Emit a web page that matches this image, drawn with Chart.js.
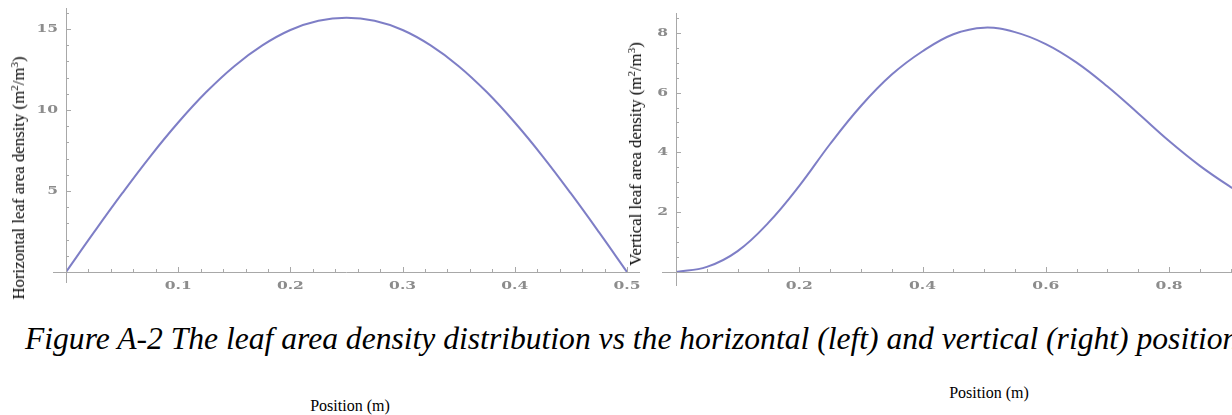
<!DOCTYPE html>
<html>
<head>
<meta charset="utf-8">
<script src="https://cdn.jsdelivr.net/npm/chart.js@4"></script>
<style>
  body { margin: 0; background: #fff; width: 1232px; height: 415px; overflow: hidden; position: relative; font-family: "Liberation Serif", "Times New Roman", serif; }
  canvas { filter: blur(0.45px); }
  #wrapH { position: absolute; left: 0; top: 0; width: 640px; height: 300px; }
  #wrapV { position: absolute; left: 620px; top: 0; width: 612px; height: 300px; }
  .ytitle { position: absolute; white-space: nowrap; font-size: 16.8px; color: #000; transform: translate(-50%, -50%) rotate(-90deg); }
  .ytitle sup { font-size: 11px; vertical-align: 6px; line-height: 0; }
  .xtitle { position: absolute; white-space: nowrap; font-size: 16px; color: #000; transform: translate(-50%, -50%); }
  #caption { position: absolute; left: 25px; top: 323px; font-size: 31.6px; line-height: 32px; font-style: italic; white-space: nowrap; color: #000; }
</style>
</head>
<body>
<div id="wrapH"><canvas id="chartH"></canvas></div>
<div id="wrapV"><canvas id="chartV"></canvas></div>

<div class="ytitle" style="left:19px; top:178px;">Horizontal leaf area density (m<sup>2</sup>/m<sup>3</sup>)</div>
<div class="ytitle" style="left:636px; top:154px;">Vertical leaf area density (m<sup>2</sup>/m<sup>3</sup>)</div>
<div id="caption">Figure A-2 The leaf area density distribution vs the horizontal (left) and vertical (right) position</div>
<div class="xtitle" style="left:350px; top:406px;">Position (m)</div>
<div class="xtitle" style="left:989px; top:393px;">Position (m)</div>

<script>
// horizontal profile (left panel)
const posH = [0, 0.025, 0.05, 0.075, 0.1, 0.125, 0.15, 0.175, 0.2, 0.225, 0.25,
              0.275, 0.3, 0.325, 0.35, 0.375, 0.4, 0.425, 0.45, 0.475, 0.5];
const ladH = [0, 2.46, 4.85, 7.13, 9.23, 11.11, 12.71, 13.99, 14.94, 15.51, 15.70,
              15.51, 14.94, 13.99, 12.71, 11.11, 9.23, 7.13, 4.85, 2.46, 0];
const xTicksH = [0.1, 0.2, 0.3, 0.4, 0.5];
const yTicksH = [5, 10, 15];

// vertical profile (right panel)
const posV = [0, 0.05, 0.1, 0.15, 0.2, 0.25, 0.3, 0.35, 0.4, 0.45, 0.5,
              0.55, 0.6, 0.65, 0.7, 0.75, 0.8, 0.85, 0.9, 0.95];
const ladV = [0, 0.17, 0.7, 1.65, 2.88, 4.28, 5.55, 6.6, 7.38, 7.95, 8.17,
              8.02, 7.62, 7.0, 6.2, 5.3, 4.38, 3.55, 2.84, 2.2];
const xTicksV = [0.2, 0.4, 0.6, 0.8];
const yTicksV = [2, 4, 6, 8];

const AXIS = '#a8a8a8';
const LINE = 'rgba(112,112,192,0.9)';
const LABEL = '#8c8c8c';
const LABEL_FONT = 'bold 11.5px "DejaVu Serif"';
const STRETCH = 1.35;

function wideText(ctx, text, px, py, align) {
    ctx.save();
    ctx.translate(px, py);
    ctx.scale(STRETCH, 1);
    ctx.textAlign = align;
    ctx.fillText(text, 0, 0);
    ctx.restore();
}

// axis lines crossing at the origin with a small overhang, inward ticks, wide tick labels
const crossAxes = {
    id: 'crossAxes',
    afterDraw(chart, args, opts) {
        const { ctx, chartArea, scales: { x, y } } = chart;
        const x0 = x.getPixelForValue(0);
        const y0 = y.getPixelForValue(0);
        ctx.save();
        ctx.strokeStyle = AXIS;
        ctx.lineWidth = 1;
        ctx.beginPath();
        ctx.moveTo(x0 - opts.overX, y0 + 0.5);
        ctx.lineTo(opts.xEnd !== undefined ? opts.xEnd : chartArea.right, y0 + 0.5);
        ctx.moveTo(x0 + 0.5, chartArea.top);
        ctx.lineTo(x0 + 0.5, y0 + opts.overY);
        for (let v = opts.xMinor; v <= x.max + 1e-9; v += opts.xMinor) {
            const major = Math.abs(v / opts.xMajor - Math.round(v / opts.xMajor)) < 1e-6;
            const px = Math.round(x.getPixelForValue(v)) + 0.5;
            ctx.moveTo(px, y0);
            ctx.lineTo(px, y0 - (major ? 5 : 3));
        }
        for (let v = opts.yMinor; v <= y.max + 1e-9; v += opts.yMinor) {
            const major = Math.abs(v / opts.yMajor - Math.round(v / opts.yMajor)) < 1e-6;
            const py = Math.round(y.getPixelForValue(v)) + 0.5;
            ctx.moveTo(x0, py);
            ctx.lineTo(x0 + (major ? 5 : 3), py);
        }
        ctx.stroke();

        ctx.fillStyle = LABEL;
        ctx.font = LABEL_FONT;
        ctx.textBaseline = 'middle';
        opts.xTicks.forEach(v => wideText(ctx, v.toFixed(1), x.getPixelForValue(v), y0 + 14, 'center'));
        opts.yTicks.forEach(v => wideText(ctx, String(v), x0 - 8, y.getPixelForValue(v), 'right'));
        ctx.restore();
    }
};

function makeChart(id, xs, ys, cfg) {
    return new Chart(document.getElementById(id), {
        type: 'line',
        data: {
            datasets: [{
                data: xs.map((v, i) => ({ x: v, y: ys[i] })),
                borderColor: LINE,
                borderWidth: 2,
                pointRadius: 0,
                tension: 0.4,
                fill: false
            }]
        },
        options: {
            responsive: true,
            maintainAspectRatio: false,
            animation: false,
            events: [],
            layout: { padding: cfg.padding },
            plugins: {
                legend: { display: false },
                tooltip: { enabled: false },
                crossAxes: cfg.axes
            },
            scales: {
                x: {
                    type: 'linear',
                    min: 0,
                    max: cfg.xMax,
                    grid: { display: false, drawTicks: false },
                    border: { display: false },
                    ticks: { display: false },
                    afterFit: s => { s.height = 28; }
                },
                y: {
                    type: 'linear',
                    min: 0,
                    max: cfg.yMax,
                    grid: { display: false, drawTicks: false },
                    border: { display: false },
                    ticks: { display: false },
                    afterFit: s => { s.width = cfg.yWidth; }
                }
            }
        },
        plugins: [crossAxes]
    });
}

makeChart('chartH', posH, ladH, {
    xMax: 0.5, yMax: 16.3, yWidth: 66,
    padding: { top: 8, right: 13, bottom: 0, left: 0 },
    axes: { overX: 13, overY: 11, xEnd: 640, xMinor: 0.02, xMajor: 0.1, yMinor: 1, yMajor: 5,
            xTicks: xTicksH, yTicks: yTicksH }
});

makeChart('chartV', posV, ladV, {
    xMax: 0.902, yMax: 8.66, yWidth: 56,
    padding: { top: 13, right: 0, bottom: 0, left: 0 },
    axes: { overX: 14, overY: 14, xMinor: 0.05, xMajor: 0.2, yMinor: 0.5, yMajor: 2,
            xTicks: xTicksV, yTicks: yTicksV }
});
</script>
</body>
</html>
